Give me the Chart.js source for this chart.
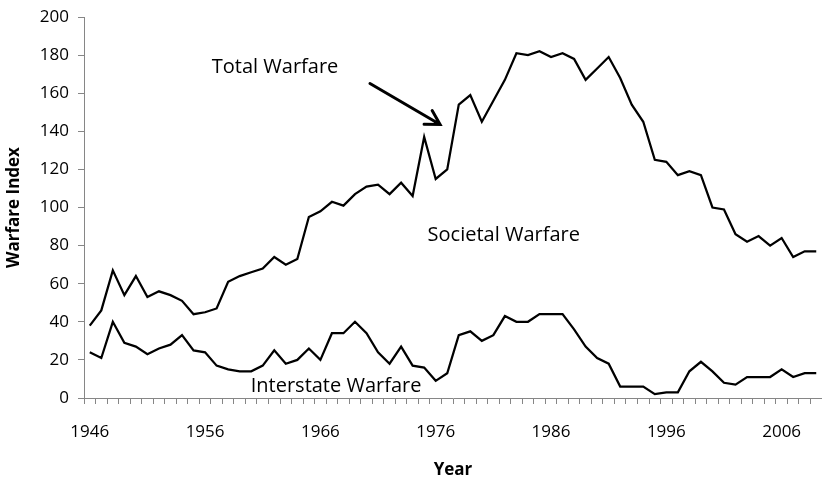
<!DOCTYPE html>
<html>
<head>
<meta charset="utf-8">
<script src="https://cdn.jsdelivr.net/npm/chart.js@4/dist/chart.umd.min.js"></script>
<style>
  html, body { margin: 0; padding: 0; background: #fff; }
</style>
</head>
<body>
<canvas id="warfare" width="822" height="480"></canvas>
<script>
const years = [
  '1946', '1947', '1948', '1949', '1950', '1951', '1952', '1953', '1954', '1955',
  '1956', '1957', '1958', '1959', '1960', '1961', '1962', '1963', '1964', '1965',
  '1966', '1967', '1968', '1969', '1970', '1971', '1972', '1973', '1974', '1975',
  '1976', '1977', '1978', '1979', '1980', '1981', '1982', '1983', '1984', '1985',
  '1986', '1987', '1988', '1989', '1990', '1991', '1992', '1993', '1994', '1995',
  '1996', '1997', '1998', '1999', '2000', '2001', '2002', '2003', '2004', '2005',
  '2006', '2007', '2008', '2009'
];

const totalWarfare = [
  38, 46, 67, 54, 64, 53, 56, 54, 51, 44,
  45, 47, 61, 64, 66, 68, 74, 70, 73, 95,
  98, 103, 101, 107, 111, 112, 107, 113, 106, 137,
  115, 120, 154, 159, 145, 156, 167, 181, 180, 182,
  179, 181, 178, 167, 173, 179, 168, 154, 145, 125,
  124, 117, 119, 117, 100, 99, 86, 82, 85, 80,
  84, 74, 77, 77
];

const interstateWarfare = [
  24, 21, 40, 29, 27, 23, 26, 28, 33, 25,
  24, 17, 15, 14, 14, 17, 25, 18, 20, 26,
  20, 34, 34, 40, 34, 24, 18, 27, 17, 16,
  9, 13, 33, 35, 30, 33, 43, 40, 40, 44,
  44, 44, 36, 27, 21, 18, 6, 6, 6, 2,
  3, 3, 14, 19, 14, 8, 7, 11, 11, 11,
  15, 11, 13, 13
];

const yearTicks = ['1946', '1956', '1966', '1976', '1986', '1996', '2006'];

const axisGray = '#868686';
const fontFamily = '"Open Sans", "Liberation Sans", sans-serif';

// text labels and the arrow, anchored in data units (category index, index value)
const notes = [
  { text: 'Total Warfare', idx: 16.07, value: 170.5 },
  { text: 'Societal Warfare', idx: 35.9, value: 82.4 },
  { text: 'Interstate Warfare', idx: 21.36, value: 3.1 }
];
const arrow = { from: [24.3, 165.1], to: [30.38, 143.6] };

const warfareNotes = {
  id: 'warfareNotes',
  afterDatasetsDraw(chart) {
    const { ctx, scales: { x, y } } = chart;
    ctx.save();
    ctx.fillStyle = '#000';
    ctx.font = '20px ' + fontFamily;
    ctx.textAlign = 'center';
    ctx.textBaseline = 'alphabetic';
    notes.forEach(n => {
      ctx.fillText(n.text, x.getPixelForValue(n.idx), y.getPixelForValue(n.value));
    });

    const x0 = x.getPixelForValue(arrow.from[0]);
    const y0 = y.getPixelForValue(arrow.from[1]);
    const x1 = x.getPixelForValue(arrow.to[0]);
    const y1 = y.getPixelForValue(arrow.to[1]);
    const ang = Math.atan2(y1 - y0, x1 - x0);
    const head = 16;
    ctx.strokeStyle = '#000';
    ctx.lineWidth = 3;
    ctx.lineCap = 'round';
    ctx.beginPath();
    ctx.moveTo(x0, y0);
    ctx.lineTo(x1, y1);
    ctx.moveTo(x1 - head * Math.cos(ang - Math.PI / 6), y1 - head * Math.sin(ang - Math.PI / 6));
    ctx.lineTo(x1, y1);
    ctx.lineTo(x1 - head * Math.cos(ang + Math.PI / 6), y1 - head * Math.sin(ang + Math.PI / 6));
    ctx.stroke();
    ctx.restore();
  }
};

new Chart(document.getElementById('warfare'), {
  type: 'line',
  data: {
    labels: years,
    datasets: [
      {
        label: 'Total Warfare',
        data: totalWarfare,
        borderColor: '#000',
        borderWidth: 2.25,
        pointRadius: 0,
        tension: 0
      },
      {
        label: 'Interstate Warfare',
        data: interstateWarfare,
        borderColor: '#000',
        borderWidth: 2.25,
        pointRadius: 0,
        tension: 0
      }
    ]
  },
  options: {
    responsive: false,
    animation: false,
    layout: { padding: { top: 17, right: 0, bottom: 0, left: 0 } },
    plugins: {
      legend: { display: false },
      tooltip: { enabled: false }
    },
    scales: {
      x: {
        type: 'category',
        offset: true,
        afterFit: scale => {
          scale.height = 82;
          scale.paddingLeft = 0;
          scale.paddingRight = 0;
        },
        border: { color: axisGray, width: 1 },
        grid: {
          display: true,
          offset: true,
          drawOnChartArea: false,
          drawTicks: true,
          tickLength: 6,
          color: axisGray
        },
        ticks: {
          autoSkip: false,
          maxRotation: 0,
          padding: 18,
          color: '#000',
          font: { family: fontFamily, size: 17 },
          callback: (val, i) => yearTicks.includes(years[i]) ? years[i] : ''
        },
        title: {
          display: true,
          text: 'Year',
          color: '#000',
          font: { family: fontFamily, size: 17, weight: 'bold' },
          padding: { top: 0, bottom: 0 }
        }
      },
      y: {
        min: 0,
        max: 200,
        afterFit: scale => {
          scale.width = 84;
          scale.paddingTop = 0;
          scale.paddingBottom = 0;
        },
        border: { color: axisGray, width: 1 },
        grid: {
          display: true,
          drawOnChartArea: false,
          drawTicks: true,
          tickLength: 6,
          color: axisGray
        },
        ticks: {
          stepSize: 20,
          padding: 9,
          color: '#000',
          font: { family: fontFamily, size: 17 }
        },
        title: {
          display: true,
          text: 'Warfare Index',
          color: '#000',
          font: { family: fontFamily, size: 17, weight: 'bold' },
          padding: { top: 4, bottom: 0 }
        }
      }
    }
  },
  plugins: [warfareNotes]
});
</script>
</body>
</html>
